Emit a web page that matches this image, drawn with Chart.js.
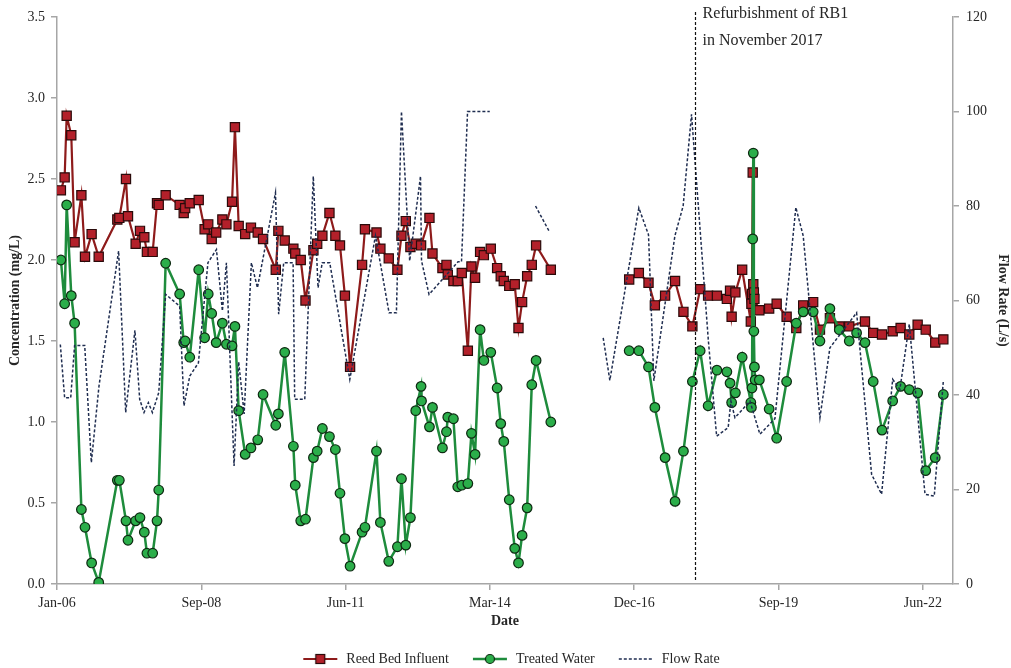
<!DOCTYPE html>
<html>
<head>
<meta charset="utf-8">
<script src="https://cdn.jsdelivr.net/npm/chart.js@4.4.1/dist/chart.umd.min.js"></script>
<style>
  html, body { margin: 0; padding: 0; background: #ffffff; }
  #wrap { width: 1011px; height: 668px; }
</style>
</head>
<body>
<div id="wrap"><canvas id="chart" width="1011" height="668"></canvas></div>
<script>
// Sampling dates shared by the two concentration series
const sampleDates = [
  '2006-01-28','2006-02-23','2006-03-09','2006-04-10','2006-05-03','2006-06-19','2006-07-14','2006-08-29','2006-10-17',
  '2007-02-23','2007-03-09','2007-04-24','2007-05-08','2007-06-30','2007-07-30','2007-08-29','2007-09-16','2007-10-26',
  '2007-11-25','2007-12-07','2008-01-24','2008-04-30','2008-05-28','2008-06-07','2008-07-09','2008-09-09','2008-10-20',
  '2008-11-14','2008-12-08','2009-01-08','2009-02-20','2009-03-20','2009-04-28','2009-05-18','2009-06-13','2009-07-28',
  '2009-09-06','2009-10-23','2009-11-29','2010-02-25','2010-03-15','2010-04-28','2010-06-27','2010-07-10','2010-08-17',
  '2010-09-19','2010-11-13','2010-12-09','2011-01-14','2011-03-04','2011-04-14','2011-05-16','2011-06-19','2011-07-25',
  '2011-10-16','2011-11-05','2012-01-24','2012-02-20','2012-04-18','2012-06-17','2012-07-15','2012-08-14','2012-09-15',
  '2012-10-22','2012-11-28','2012-12-01','2013-01-25','2013-02-15','2013-04-25','2013-05-23','2013-06-01','2013-07-10',
  '2013-08-09','2013-09-06','2013-10-18','2013-11-12','2013-12-07','2014-01-11','2014-02-06','2014-03-26','2014-05-09',
  '2014-06-03','2014-06-24','2014-08-01','2014-09-08','2014-10-04','2014-10-29','2014-12-03','2015-01-04','2015-02-03',
  '2015-05-16',
  '2016-11-09','2017-01-15','2017-03-23','2017-05-06','2017-07-16','2017-09-23','2017-11-20','2018-01-21','2018-03-16',
  '2018-05-10','2018-07-10','2018-09-17','2018-10-09','2018-10-20','2018-11-15','2019-01-01','2019-03-02','2019-03-06',
  '2019-03-10','2019-03-15','2019-03-19','2019-03-23','2019-03-27','2019-04-01','2019-04-30','2019-07-07','2019-08-28',
  '2019-11-05','2020-01-11','2020-02-28','2020-05-07','2020-06-23','2020-08-31','2020-11-04','2021-01-12','2021-03-04',
  '2021-05-01','2021-06-27','2021-08-27','2021-11-09','2022-01-03','2022-03-04','2022-05-01','2022-06-26','2022-08-31',
  '2022-10-26'
];

// Reed bed influent concentration (mg/L)
const influent = [
  2.43,2.51,2.89,2.77,2.11,2.40,2.02,2.16,2.02,
  2.25,2.26,2.50,2.27,2.10,2.18,2.14,2.05,2.05,
  2.35,2.34,2.40,2.34,2.29,2.32,2.35,2.37,2.19,
  2.22,2.13,2.17,2.25,2.22,2.36,2.82,2.21,2.16,
  2.20,2.17,2.13,1.94,2.18,2.12,2.07,2.04,2.00,
  1.75,2.06,2.10,2.15,2.29,2.15,2.09,1.78,1.34,
  1.97,2.19,2.17,2.07,2.01,1.94,2.15,2.24,2.08,
  2.10,2.09,null,2.26,2.04,1.95,1.97,1.91,1.87,
  1.87,1.92,1.44,1.96,1.89,2.05,2.03,2.07,1.95,
  1.90,1.87,1.84,1.85,1.58,1.74,1.90,1.97,2.09,
  1.94,
  1.88,1.92,1.86,1.72,1.78,1.87,1.68,1.59,1.82,
  1.78,1.78,1.76,1.81,1.65,1.80,1.94,1.62,1.73,
  1.79,2.54,1.85,1.80,1.76,null,1.69,1.70,1.73,
  1.65,1.58,1.72,1.74,1.57,1.64,1.59,1.59,null,
  1.62,1.55,1.54,1.56,1.58,1.54,1.60,1.57,1.49,
  1.51
];

// Treated water concentration (mg/L)
const treated = [
  2.00,1.73,2.34,1.78,1.61,0.46,0.35,0.13,0.01,
  0.64,0.64,0.39,0.27,0.39,0.41,0.32,0.19,0.19,
  0.39,0.58,1.98,1.79,1.49,1.50,1.40,1.94,1.52,
  1.79,1.67,1.49,1.61,1.48,1.47,1.59,1.07,0.80,
  0.84,0.89,1.17,0.98,1.05,1.43,0.85,0.61,0.39,
  0.40,0.78,0.82,0.96,0.91,0.83,0.56,0.28,0.11,
  0.32,0.35,0.82,0.38,0.14,0.23,0.65,0.24,0.41,
  1.07,1.22,1.13,0.97,1.09,0.84,0.94,1.03,1.02,
  0.60,0.61,0.62,0.93,0.80,1.57,1.38,1.43,1.21,
  0.99,0.88,0.52,0.22,0.13,0.30,0.47,1.23,1.38,
  1.00,
  1.44,1.44,1.34,1.09,0.78,0.51,0.82,1.25,1.44,
  1.10,1.32,1.31,1.24,1.12,1.18,1.40,1.12,1.09,
  1.21,2.13,2.66,1.56,1.34,1.26,1.26,1.08,0.90,
  1.25,1.61,1.68,1.68,1.50,1.70,1.57,1.50,1.55,
  1.49,1.25,0.95,1.13,1.22,1.20,1.18,0.70,0.78,
  1.17
];

// Flow rate record (L/s)
const flowDates = [
  '2006-01-24','2006-02-23','2006-04-06','2006-05-03','2006-07-12','2006-08-27','2006-10-19','2007-03-04','2007-04-22',
  '2007-06-25','2007-07-28','2007-08-27','2007-09-26','2007-10-24','2007-12-07','2008-01-24','2008-04-30','2008-05-30',
  '2008-07-09','2008-09-07','2008-11-12','2009-01-10','2009-02-20','2009-03-20','2009-05-12','2009-06-13','2009-07-21',
  '2009-09-09','2009-10-21','2010-02-23','2010-03-17','2010-04-21','2010-06-25','2010-07-06','2010-09-14','2010-11-12',
  '2010-12-15','2011-01-13','2011-03-06','2011-07-23','2012-01-17','2012-04-20','2012-06-10','2012-07-15','2012-09-10',
  '2012-11-24','2012-12-01','2013-01-22','2013-08-11','2013-09-04','2013-10-16','2014-03-19',
  '2015-01-30','2015-05-09',
  '2016-05-13','2016-06-28','2017-01-15','2017-03-23','2017-04-29','2017-09-22','2017-11-18','2018-01-15','2018-05-11',
  '2018-07-08','2018-09-26','2018-10-15','2018-11-12','2019-02-24','2019-05-04','2019-08-16','2020-01-08','2020-02-28',
  '2020-06-23','2020-08-31','2021-03-04','2021-06-16','2021-08-24','2021-11-09','2021-12-29','2022-03-04','2022-06-21',
  '2022-08-24','2022-10-26'
];
const flowRate = [
  50.7,39.4,39.4,50.5,50.5,25.7,41.9,70.5,36.3,
  53.7,39.1,36.3,38.4,36.3,40.5,61.3,58.8,37.7,
  44.0,46.8,68.0,70.8,57.8,68.0,25.0,47.0,36.0,
  68.0,62.7,82.8,57.1,68.0,68.0,39.1,39.1,86.3,
  62.7,68.0,68.0,43.3,73.7,57.4,57.4,100.0,68.4,
  86.3,68.4,61.3,68.2,68.2,100.0,100.0,
  80.0,74.4,
  52.1,43.1,79.6,73.9,43.0,73.7,80.0,99.4,51.8,
  31.3,33.1,38.7,35.2,38.7,31.7,35.0,79.7,73.7,
  35.2,50.0,57.4,23.2,19.0,43.3,41.2,55.0,19.0,
  18.6,43.0
];

// Date axis tick positions (1000-day steps)
const xTickDates = ['2006-01-01','2008-09-27','2011-06-24','2014-03-20','2016-12-14','2019-09-10','2022-06-06'];
const xRange = ['2006-01-01','2023-01-01'];
const refurbDate = '2018-02-09';

const MONTHS = ['Jan','Feb','Mar','Apr','May','Jun','Jul','Aug','Sep','Oct','Nov','Dec'];
const toDay = s => { const [y, m, d] = s.split('-').map(Number); return Date.UTC(y, m - 1, d) / 864e5; };
const dayLabel = v => { const dt = new Date(v * 864e5); return MONTHS[dt.getUTCMonth()] + '-' + String(dt.getUTCFullYear()).slice(2); };
const toPoints = (dates, vals) => dates.map((d, i) => ({ x: toDay(d), y: vals[i] })).filter(p => p.y !== null);

const SERIF = '"Liberation Serif", "DejaVu Serif", serif';
const TEXT = '#262626';
const AXIS = '#A6A6A6';

const RED_LINE = '#8E1B1B', RED_FILL = '#B3202A', RED_EDGE = '#2A0A0A';
const GRN_LINE = '#1E8C3C', GRN_FILL = '#2BAE4A', GRN_EDGE = '#0E2A12';
const FLOW = '#1F2D50';

// Legend swatches: line with marker
function swatch(kind) {
  const c = document.createElement('canvas');
  c.width = 48; c.height = 14;
  const g = c.getContext('2d');
  const y = 7, x0 = 12, x1 = 46, cx = 29;
  g.lineCap = 'butt';
  if (kind === 'flow') {
    g.strokeStyle = FLOW; g.lineWidth = 1.5; g.setLineDash([3, 2]);
    g.beginPath(); g.moveTo(x0, y); g.lineTo(x1, y); g.stroke();
    return c;
  }
  g.strokeStyle = kind === 'red' ? RED_LINE : GRN_LINE;
  g.lineWidth = kind === 'red' ? 2.2 : 2.5;
  g.beginPath(); g.moveTo(x0, y); g.lineTo(x1, y); g.stroke();
  g.lineWidth = 1.2;
  if (kind === 'red') {
    g.fillStyle = RED_FILL; g.strokeStyle = RED_EDGE;
    g.fillRect(cx - 4.5, y - 4.5, 9, 9); g.strokeRect(cx - 4.5, y - 4.5, 9, 9);
  } else {
    g.fillStyle = GRN_FILL; g.strokeStyle = GRN_EDGE;
    g.beginPath(); g.arc(cx, y, 4.5, 0, Math.PI * 2); g.fill(); g.stroke();
  }
  return c;
}
const legendSwatches = [swatch('red'), swatch('green'), swatch('flow')];

// Vertical marker for the reed bed refurbishment
const refurbPlugin = {
  id: 'refurb',
  afterDatasetsDraw(chart) {
    const { ctx, chartArea, scales } = chart;
    const px = Math.round(scales.x.getPixelForValue(toDay(refurbDate))) + 0.5;
    ctx.save();
    ctx.strokeStyle = '#111111';
    ctx.lineWidth = 1.2;
    ctx.setLineDash([3, 2]);
    ctx.beginPath();
    ctx.moveTo(px, chartArea.top - 5);
    ctx.lineTo(px, chartArea.bottom - 4);
    ctx.stroke();
    ctx.setLineDash([]);
    ctx.fillStyle = TEXT;
    ctx.font = '16px ' + SERIF;
    ctx.textBaseline = 'middle';
    ctx.textAlign = 'left';
    ctx.fillText('Refurbishment of RB1', px + 7, 14);
    ctx.fillText('in November 2017', px + 7, 41);
    ctx.restore();
  }
};

const yGrid = { display: true, drawOnChartArea: false, drawTicks: true, tickLength: 6, color: AXIS, lineWidth: 1.5 };
const axisBorder = { display: true, color: AXIS, width: 1.5 };

new Chart(document.getElementById('chart'), {
  type: 'line',
  data: {
    datasets: [
      {
        label: 'Reed Bed Influent',
        data: toPoints(sampleDates, influent),
        yAxisID: 'y',
        borderColor: RED_LINE,
        borderWidth: 2.2,
        pointStyle: 'rect',
        pointRadius: 6.5,
        pointBackgroundColor: RED_FILL,
        pointBorderColor: RED_EDGE,
        pointBorderWidth: 1.2,
        spanGaps: 260,
        tension: 0,
        order: 3
      },
      {
        label: 'Treated Water',
        data: toPoints(sampleDates, treated),
        yAxisID: 'y',
        borderColor: GRN_LINE,
        borderWidth: 2.5,
        pointStyle: 'circle',
        pointRadius: 4.8,
        pointBackgroundColor: GRN_FILL,
        pointBorderColor: GRN_EDGE,
        pointBorderWidth: 1.2,
        spanGaps: 260,
        tension: 0,
        order: 2
      },
      {
        label: 'Flow Rate',
        data: toPoints(flowDates, flowRate),
        yAxisID: 'y1',
        borderColor: FLOW,
        borderWidth: 1.5,
        borderDash: [3, 2],
        pointRadius: 0,
        spanGaps: 260,
        tension: 0,
        order: 1
      }
    ]
  },
  options: {
    responsive: false,
    animation: false,
    devicePixelRatio: 1,
    layout: { padding: { top: 17, left: 0, right: 0, bottom: -8 } },
    plugins: {
      tooltip: { enabled: false },
      legend: {
        position: 'bottom',
        labels: {
          usePointStyle: true,
          pointStyleWidth: 48,
          padding: 12,
          color: TEXT,
          font: { family: SERIF, size: 14 },
          generateLabels: () => ['Reed Bed Influent', 'Treated Water', 'Flow Rate'].map((t, i) => ({
            text: t,
            pointStyle: legendSwatches[i],
            fillStyle: 'rgba(0,0,0,0)',
            strokeStyle: 'rgba(0,0,0,0)',
            lineWidth: 0,
            hidden: false,
            datasetIndex: i,
            fontColor: TEXT
          }))
        }
      }
    },
    scales: {
      x: {
        type: 'linear',
        min: toDay(xRange[0]),
        max: toDay(xRange[1]),
        afterBuildTicks: s => { s.ticks = xTickDates.map(d => ({ value: toDay(d) })); },
        afterFit: s => { s.height = 56; },
        grid: { display: true, drawOnChartArea: false, drawTicks: true, tickLength: 6, color: AXIS, lineWidth: 1.5 },
        border: axisBorder,
        ticks: {
          autoSkip: false, maxRotation: 0, padding: 5,
          color: TEXT, font: { family: SERIF, size: 14 },
          callback: v => dayLabel(v)
        },
        title: {
          display: true, text: 'Date', color: TEXT,
          font: { family: SERIF, size: 14, weight: 'bold' },
          padding: { top: 0, bottom: 10 }
        }
      },
      y: {
        position: 'left',
        min: 0, max: 3.5,
        afterFit: s => { s.width = 57; },
        grid: yGrid,
        border: axisBorder,
        ticks: {
          stepSize: 0.5, padding: 6,
          color: TEXT, font: { family: SERIF, size: 14 },
          callback: v => Number(v).toFixed(1)
        },
        title: {
          display: true, text: 'Concentration (mg/L)', color: TEXT,
          font: { family: SERIF, size: 14, weight: 'bold' },
          padding: { top: 7, bottom: 0 }
        }
      },
      y1: {
        position: 'right',
        min: 0, max: 120,
        afterFit: s => { s.width = 58; },
        grid: yGrid,
        border: axisBorder,
        ticks: {
          stepSize: 20, padding: 7,
          color: TEXT, font: { family: SERIF, size: 14 },
          callback: v => String(v)
        },
        title: {
          display: true, text: 'Flow Rate (L/s)', color: TEXT,
          font: { family: SERIF, size: 14, weight: 'bold' },
          padding: { top: 0, bottom: 0 }
        }
      }
    }
  },
  plugins: [refurbPlugin]
});
</script>
</body>
</html>
